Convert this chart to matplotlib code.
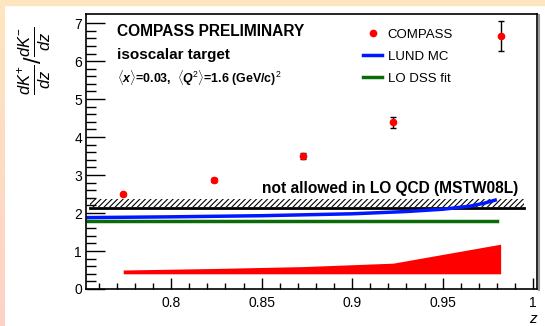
import numpy as np
import matplotlib
matplotlib.use("Agg")
import matplotlib.pyplot as plt
from matplotlib.lines import Line2D
from matplotlib.patches import Rectangle

plt.rcParams["font.family"] = ["Liberation Sans", "DejaVu Sans"]
plt.rcParams["mathtext.fontset"] = "custom"
plt.rcParams["mathtext.rm"] = "Liberation Sans"
plt.rcParams["mathtext.it"] = "Liberation Sans:italic"
plt.rcParams["mathtext.bf"] = "Liberation Sans:bold:italic"
plt.rcParams["hatch.linewidth"] = 0.8

# COMPASS data points
z_data = [0.7735, 0.8237, 0.873, 0.9226, 0.982]
ratio = [2.50, 2.87, 3.50, 4.39, 6.66]
ratio_err = [0.03, 0.04, 0.08, 0.15, 0.40]

# systematic band
sys_low = [0.40, 0.40, 0.40, 0.40, 0.40]
sys_high = [0.50, 0.54, 0.59, 0.68, 1.18]

# LUND MC curve
z_lund = [0.754, 0.80, 0.85, 0.90, 0.93, 0.95, 0.965, 0.973, 0.979]
lund = [1.88, 1.90, 1.93, 1.98, 2.04, 2.10, 2.18, 2.26, 2.34]

# LO DSS fit
z_dss = [0.754, 0.980]
dss = [1.80, 1.80]

# LO QCD limit (MSTW08L)
z_lim = [0.755, 0.995]
lim = [2.13, 2.13]
lim_top = 2.38

fig = plt.figure(figsize=(5.45, 3.26), dpi=100)

# slide frame strips
fig.patches.append(Rectangle((0, 0.985), 1, 0.015, transform=fig.transFigure,
                             color="#fde6bf", zorder=0))
grad = np.linspace(0, 1, 100).reshape(-1, 1)
c_top = np.array([0.992, 0.902, 0.749])
c_bot = np.array([1.0, 0.82, 0.78])
img = c_bot + (c_top - c_bot) * grad[:, :, None]
ax_bg = fig.add_axes([0, 0, 0.009, 1])
ax_bg.imshow(img, aspect="auto", origin="lower")
ax_bg.axis("off")

ax = fig.add_axes([0.158, 0.1135, 0.827, 0.8435])

ax.fill_between(z_data, sys_low, sys_high, color="red", lw=0)
ax.fill_between(z_lim, lim[0] + 0.02, lim_top, facecolor="none",
                edgecolor="black", hatch="//////", lw=0)
ax.plot(z_lim, lim, color="black", lw=2)
ax.plot(z_dss, dss, color="#0b6b0b", lw=2.5)
ax.plot(z_lund, lund, color="#0018ff", lw=2.5)
ax.errorbar(z_data, ratio, yerr=ratio_err, fmt="o", color="red", ms=4.5,
            ecolor="black", elinewidth=1, capsize=2, capthick=1)

ax.set_xlim(0.753, 1.002)
ax.set_ylim(0, 7.24)
ax.set_xticks([0.8, 0.85, 0.9, 0.95, 1.0])
ax.set_xticklabels(["0.8", "0.85", "0.9", "0.95", "1"])
ax.set_xticks(np.arange(0.76, 1.0, 0.01), minor=True)
ax.set_yticks(range(8))
ax.set_yticks(np.arange(0, 7.2, 0.2), minor=True)
ax.tick_params(which="both", direction="in", labelsize=10, width=1)
ax.tick_params(axis="y", which="major", length=14, pad=3)
ax.tick_params(axis="y", which="minor", length=7)
ax.tick_params(axis="x", which="major", length=8, pad=5)
ax.tick_params(axis="x", which="minor", length=4)
for s in ax.spines.values():
    s.set_linewidth(1.2)

ax.text(0.069, 0.935, "COMPASS PRELIMINARY", transform=ax.transAxes,
        fontsize=11.2, fontweight="bold", va="center")
ax.text(0.069, 0.851, "isoscalar target", transform=ax.transAxes,
        fontsize=11, fontweight="bold", va="center")
ax.text(0.069, 0.767,
        r"$\langle \mathbf{x} \rangle$=0.03,  $\langle \mathbf{Q}^{2} \rangle$=1.6 (GeV/c)$^{2}$",
        transform=ax.transAxes, fontsize=8.9, fontweight="bold", va="center")
ax.text(0.958, 0.364, "not allowed in LO QCD (MSTW08L)", transform=ax.transAxes,
        fontsize=11.2, fontweight="bold", ha="right", va="center")

handles = [
    Line2D([], [], ls="none", marker="o", color="red", ms=4.5),
    Line2D([], [], color="#0018ff", lw=2.5),
    Line2D([], [], color="#0b6b0b", lw=2.5),
]
ax.legend(handles, ["COMPASS", "LUND MC", "LO DSS fit"], loc="upper left",
          bbox_to_anchor=(0.6, 0.97), frameon=False, fontsize=9.5,
          handlelength=1.45, handletextpad=0.4, labelspacing=0.72, borderpad=0)

fig.text(0.062, 0.815, r"$\frac{dK^{+}}{dz}/\frac{dK^{-}}{dz}$", rotation=90,
         fontsize=17, ha="center", va="center")
fig.text(0.978, 0.022, "z", fontsize=11, style="italic", ha="center", va="center")

# gray shadow on right edge
fig.add_artist(Line2D([0.989, 0.989], [0.11, 0.955], transform=fig.transFigure,
                      color="#999999", lw=1.5))

fig.savefig("out.png", dpi=100)
